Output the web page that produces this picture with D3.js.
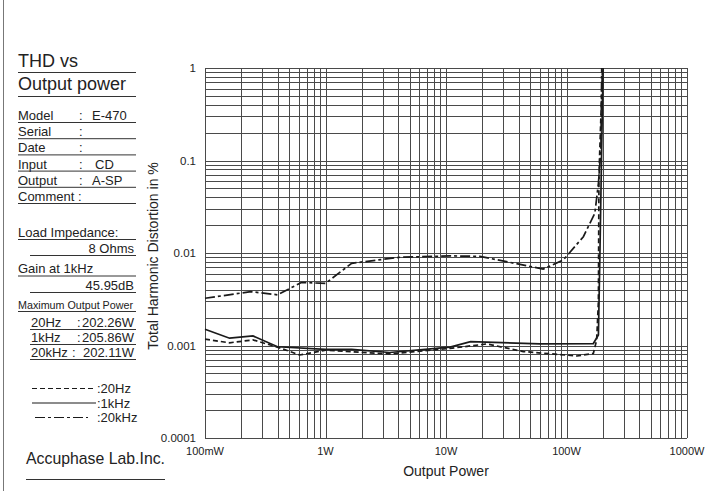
<!DOCTYPE html>
<html>
<head>
<meta charset="utf-8">
<script src="https://cdn.jsdelivr.net/npm/d3@7"></script>
<style>
  body { margin: 0; background: #fff; }
  svg { display: block; font-family: "Liberation Sans", Arial, sans-serif; }
  text { fill: #222; }
</style>
</head>
<body>
<svg width="705" height="491"></svg>
<script>
// output power in W, THD in %
var thd20Hz = [[0.1,0.00117],[0.16,0.00107],[0.25,0.00115],[0.4,0.00096],[0.61,0.00079],[1,0.00089],
  [3.4,0.00081],[10.8,0.00093],[21.8,0.00104],[43.8,0.00086],[122,0.00077],[167,0.00082],[178,0.00115],
  [184,0.003],[186,0.07],[199,1]];
var thd1kHz = [[0.1,0.0015],[0.16,0.0012],[0.25,0.00127],[0.4,0.00097],[1,0.00091],[1.65,0.00091],
  [3.4,0.00084],[10.8,0.00096],[16,0.0011],[60,0.00104],[167,0.00105],[184,0.0013],[189,0.0084],[201,1]];
var thd20kHz = [[0.1,0.00324],[0.24,0.00382],[0.4,0.00353],[0.63,0.0048],[1,0.0047],[1.65,0.00774],
  [4.15,0.009],[10.8,0.0093],[19.1,0.0092],[64,0.0067],[94,0.0084],[138,0.015],[172,0.027],
  [184,0.0567],[193,0.13],[196,1]];

var xTicks = [0.1, 1, 10, 100, 1000];
var xTickLabels = ["100mW", "1W", "10W", "100W", "1000W"];
var yTicks = [1, 0.1, 0.01, 0.001, 0.0001];
var yTickLabels = ["1", "0.1", "0.01", "0.001", "0.0001"];

var specRows = [["Model", "E-470", 92], ["Serial", "", 0], ["Date", "", 0],
  ["Input", "CD", 95], ["Output", "A-SP", 92]];
var powerRows = [["20Hz", "202.26W", 77], ["1kHz", "205.86W", 77], ["20kHz", "202.11W", 72]];
var legendRows = [["20Hz", "5,3"], ["1kHz", null], ["20kHz", "10,3,3,3"]];

var svg = d3.select("svg");
var pLeft = 205, pRight = 687, pTop = 68, pBottom = 438;

var x = d3.scaleLog().domain([0.1, 1000]).range([pLeft, pRight]);
var y = d3.scaleLog().domain([0.0001, 1]).range([pBottom, pTop]);

// log grid values (1..9 per decade)
function logGrid(lo, hi) {
  var v = [];
  for (var d = lo; d < hi * 0.99; d *= 10)
    for (var k = 1; k < 10; k++) v.push(d * k);
  v.push(hi);
  return v;
}

var grid = svg.append("g").attr("stroke", "#4a4a4a").attr("stroke-width", 1);
grid.selectAll("line.v").data(logGrid(0.1, 1000)).enter().append("line")
  .attr("x1", function(d) { return Math.round(x(d)) + 0.5; })
  .attr("x2", function(d) { return Math.round(x(d)) + 0.5; })
  .attr("y1", pTop).attr("y2", pBottom);
grid.selectAll("line.h").data(logGrid(0.0001, 1)).enter().append("line")
  .attr("y1", function(d) { return Math.round(y(d)) + 0.5; })
  .attr("y2", function(d) { return Math.round(y(d)) + 0.5; })
  .attr("x1", pLeft).attr("x2", pRight);

// tick labels
svg.selectAll("text.xt").data(xTicks).enter().append("text")
  .attr("x", function(d) { return x(d); }).attr("y", 455)
  .attr("text-anchor", "middle").attr("font-size", 11)
  .text(function(d, i) { return xTickLabels[i]; });
svg.selectAll("text.yt").data(yTicks).enter().append("text")
  .attr("x", 196).attr("y", function(d) { return y(d) + 4; })
  .attr("text-anchor", "end").attr("font-size", 11.5)
  .text(function(d, i) { return yTickLabels[i]; });

svg.append("text").attr("x", (pLeft + pRight) / 2).attr("y", 476)
  .attr("text-anchor", "middle").attr("font-size", 14).text("Output Power");
svg.append("text").attr("transform", "translate(158,256) rotate(-90)")
  .attr("text-anchor", "middle").attr("font-size", 14).text("Total Harmonic Distortion in %");

// curves
var line = d3.line().x(function(d) { return x(d[0]); }).y(function(d) { return y(d[1]); });
var curves = [[thd20Hz, "5,3"], [thd1kHz, null], [thd20kHz, "10,3,3,3"]];
curves.forEach(function(c) {
  svg.append("path").datum(c[0]).attr("d", line)
    .attr("fill", "none").attr("stroke", "#1a1a1a").attr("stroke-width", 1.7)
    .attr("stroke-dasharray", c[1]);
});

// left info panel
var info = svg.append("g");
function rule(y0, x0, x1) {
  info.append("line").attr("x1", x0).attr("x2", x1 || 136).attr("y1", y0).attr("y2", y0)
    .attr("stroke", "#333").attr("stroke-width", 1);
}
function txt(s, tx, ty, size, anchor) {
  return info.append("text").attr("x", tx).attr("y", ty).attr("font-size", size)
    .attr("text-anchor", anchor || "start").text(s);
}

svg.append("line").attr("x1", 3.5).attr("x2", 3.5).attr("y1", 0).attr("y2", 491)
  .attr("stroke", "#777").attr("stroke-width", 1);

txt("THD vs", 18, 67, 18); rule(72.5, 18);
txt("Output power", 18, 90, 18); rule(96.5, 18);

specRows.forEach(function(r, i) {
  var by = 120 + i * 16.2;
  txt(r[0], 18, by, 13);
  txt(":", 79, by, 13);
  if (r[1]) txt(r[1], r[2], by, 13);
  rule(by + 2.5, 18);
});
var cy = 120 + 5 * 16.2;
txt("Comment", 18, cy, 13); txt(":", 78, cy, 13); rule(cy + 2.5, 18);

txt("Load Impedance:", 18, 236.5, 13); rule(239.5, 18);
txt("8 Ohms", 134, 253, 13, "end"); rule(255.5, 30);
txt("Gain at 1kHz", 18, 273, 13); rule(276, 18);
txt("45.95dB", 134, 290, 13, "end"); rule(292.5, 30);
txt("Maximum Output Power", 18, 309, 11).attr("textLength", 115).attr("lengthAdjust", "spacingAndGlyphs");
rule(311.5, 18);

powerRows.forEach(function(r, i) {
  var by = 326.5 + i * 15;
  txt(r[0], 31, by, 13);
  txt(":", r[2], by, 13);
  txt(r[1], 134, by, 13, "end");
  rule(by + 3, 30);
});

legendRows.forEach(function(r, i) {
  var ly = 388.5 + i * 14.5;
  info.append("line").attr("x1", i == 2 ? 35 : 32).attr("x2", i == 2 ? 88 : 96)
    .attr("y1", ly).attr("y2", ly)
    .attr("stroke", "#1a1a1a").attr("stroke-width", 1.2).attr("stroke-dasharray", r[1]);
  txt(":" + r[0], 97, ly + 4.5, 13);
});

txt("Accuphase Lab.Inc.", 26, 464, 17).attr("textLength", 139).attr("lengthAdjust", "spacingAndGlyphs");
rule(479.5, 26, 165);
</script>
</body>
</html>
